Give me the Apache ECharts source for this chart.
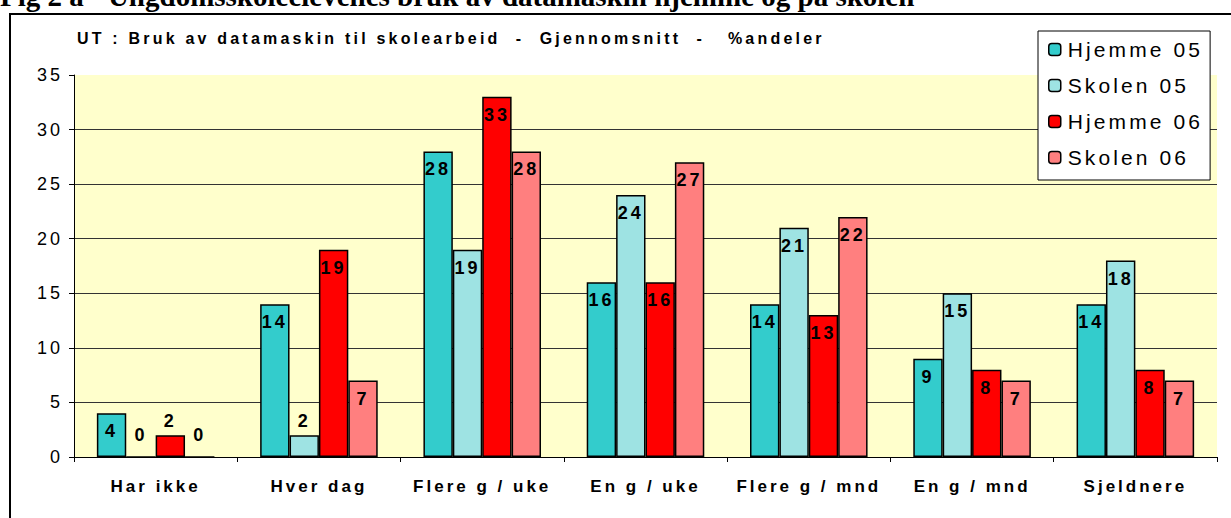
<!DOCTYPE html>
<html>
<head>
<meta charset="utf-8">
<script src="https://cdn.jsdelivr.net/npm/echarts@6/dist/echarts.min.js"></script>
<style>
html,body{margin:0;padding:0;background:#fff;}
#c{width:1231px;height:518px;}
#c svg text{letter-spacing:3px;}
#c svg text[style*="Serif"], #c svg text[font-family*="Serif"]{letter-spacing:0;}
</style>
</head>
<body>
<div id="c"></div>
<script>
const categories = ['Har ikke', 'Hver dag', 'Flere g / uke', 'En g / uke', 'Flere g / mnd', 'En g / mnd', 'Sjeldnere'];
const seriesNames = ['Hjemme 05', 'Skolen 05', 'Hjemme 06', 'Skolen 06'];
const hjemme05 = [4, 14, 28, 16, 14, 9, 14];
const skolen05 = [0, 2, 19, 24, 21, 15, 18];
const hjemme06 = [2, 19, 33, 16, 13, 8, 8];
const skolen06 = [0, 7, 28, 27, 22, 7, 7];
const yTicks = [0, 5, 10, 15, 20, 25, 30, 35];
const figTitle = 'Fig 2 a - Ungdomsskoleelevenes bruk av datamaskin hjemme og på skolen';
const chartTitle = 'UT : Bruk av datamaskin til skolearbeid  -  Gjennomsnitt  -   %andeler';

const colors = ['#33CCCC', '#9EE3E3', '#FF0000', '#FF7F7F'];
const FONT = 'Liberation Sans';
const labelFont = {fontFamily: FONT, fontWeight: 'bold', fontSize: 18, color: '#000'};

function mkData(arr) {
  return arr.map(v => {
    if (v <= 2) {
      return {value: v, label: {position: 'top', distance: v === 0 ? 12 : 5}};
    }
    return {value: v};
  });
}

const allSeries = [hjemme05, skolen05, hjemme06, skolen06].map((arr, i) => ({
  name: seriesNames[i],
  type: 'bar',
  data: mkData(arr),
  barGap: '0%',
  barCategoryGap: '28%',
  itemStyle: {color: colors[i], borderColor: '#000', borderWidth: 1.5},
  label: Object.assign({show: true, position: 'insideTop', distance: 9}, labelFont),
  emphasis: {disabled: true},
  animation: false
}));

const chart = echarts.init(document.getElementById('c'), null, {renderer: 'svg'});
chart.setOption({
  animation: false,
  backgroundColor: '#fff',
  graphic: [
    {type: 'rect', shape: {x: 10, y: 14, width: 1240, height: 520}, style: {fill: 'none', stroke: '#000', lineWidth: 2}, z: 100},
    {type: 'text', x: 0, y: 10, style: {text: figTitle, font: 'bold 29px "Liberation Serif"', fill: '#000', verticalAlign: 'bottom'}},
    {type: 'text', x: 77, y: 38, style: {text: chartTitle, font: 'bold 16px "Liberation Sans"', fill: '#000', verticalAlign: 'middle'}}
  ],
  legend: {
    data: seriesNames,
    orient: 'vertical',
    left: 1038,
    top: 31,
    padding: [8, 35, 12, 10],
    itemWidth: 12,
    itemHeight: 12,
    itemGap: 15,
    backgroundColor: '#fff',
    borderColor: '#000',
    borderWidth: 1,
    textStyle: {fontFamily: FONT, fontSize: 21, color: '#000', padding: [0, 0, 0, 2]},
    itemStyle: {borderColor: '#000', borderWidth: 1.5},
    selectedMode: false
  },
  grid: {left: 74, right: 14, top: 75, bottom: 61, show: true, backgroundColor: '#FFFFCC', borderWidth: 0, containLabel: false},
  xAxis: {
    type: 'category',
    data: categories,
    axisLine: {lineStyle: {color: '#000', width: 1}},
    axisTick: {show: true, length: 5, lineStyle: {color: '#000'}},
    axisLabel: {margin: 21, fontFamily: FONT, fontWeight: 'bold', fontSize: 17, color: '#000'}
  },
  yAxis: {
    type: 'value',
    min: yTicks[0],
    max: yTicks[yTicks.length - 1],
    interval: 5,
    axisLine: {show: true, lineStyle: {color: '#000', width: 1}},
    axisTick: {show: true, length: 5, lineStyle: {color: '#000'}},
    axisLabel: {margin: 11, fontFamily: FONT, fontSize: 18, color: '#000'},
    splitLine: {show: true, lineStyle: {color: ['#333', '#333', '#333', '#333', '#333', '#333', '#333', 'rgba(0,0,0,0)'], width: 1}}
  },
  series: allSeries
});
function fixSpacing() {
  document.querySelectorAll('#c svg text').forEach(t => {
    const s = (t.textContent || '').trim();
    if (s.indexOf('Fig 2 a') === 0) t.style.letterSpacing = '0px';
    else if (s.indexOf('UT :') === 0) t.style.letterSpacing = '3.2px';
    else if (seriesNames.indexOf(s) >= 0) t.style.letterSpacing = '3.1px';
  });
}
chart.on('finished', fixSpacing);
fixSpacing();
setTimeout(fixSpacing, 0);
setTimeout(fixSpacing, 100);
</script>
</body>
</html>
